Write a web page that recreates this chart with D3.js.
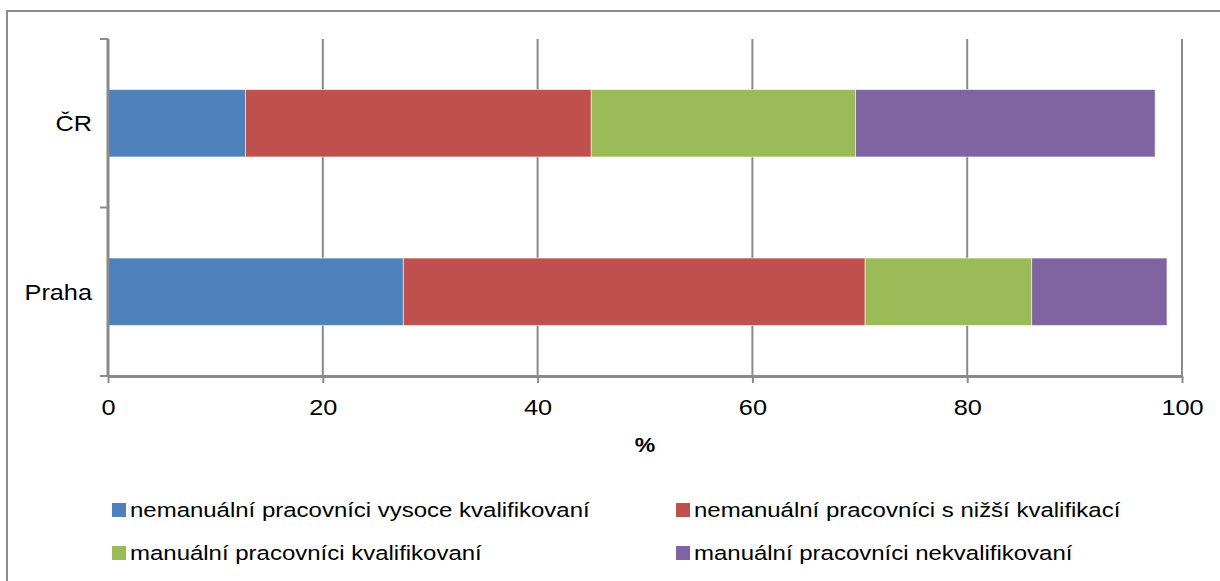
<!DOCTYPE html>
<html lang="cs"><head><meta charset="UTF-8">
<title>Socioprofesní skupiny</title>
<script src="https://d3js.org/d3.v7.min.js"></script>
<style>
  body { margin: 0; background: #fff; }
  text { font-family: "Liberation Sans", Arial, sans-serif; fill: #000; }
</style>
</head>
<body>
<script>
// data
var categories = ["ČR", "Praha"];
var seriesNames = [
  "nemanuální pracovníci vysoce kvalifikovaní",
  "nemanuální pracovníci s nižší kvalifikací",
  "manuální pracovníci kvalifikovaní",
  "manuální pracovníci nekvalifikovaní"
];
var highQual = [12.8, 27.5];
var lowQual = [32.2, 43.0];
var manualQual = [24.6, 15.5];
var manualUnqual = [27.9, 12.6];
var xTicks = [0, 20, 40, 60, 80, 100];
var colors = ["#4f81bd", "#c0504d", "#9bbb59", "#8064a2"];

var w = 1220, h = 581;
var stretch = 1.15; // reference text is a bit wider than tall

var svg = d3.select("body").append("svg")
  .attr("width", w).attr("height", h);

// outer frame (cut off right and bottom)
svg.append("rect")
  .attr("x", 7).attr("y", 11)
  .attr("width", w + 20).attr("height", h + 20)
  .attr("fill", "none").attr("stroke", "#8c8c8c").attr("stroke-width", 2);

var x = d3.scaleLinear().domain([0, 100]).range([108, 1182]);
var y = d3.scaleBand().domain(categories).range([39, 376])
  .paddingInner(0.6).paddingOuter(0.3);

// stack rows
var rows = categories.map(function(c, i) {
  return { cat: c, v: [highQual[i], lowQual[i], manualQual[i], manualUnqual[i]] };
});
var keys = [0, 1, 2, 3];
var stack = d3.stack().keys(keys).value(function(d, k) { return d.v[k]; });
var layers = stack(rows);

// gridlines
svg.append("g").selectAll("line")
  .data(xTicks.slice(1))
  .enter().append("line")
  .attr("x1", function(d) { return x(d); }).attr("x2", function(d) { return x(d); })
  .attr("y1", y.range()[0]).attr("y2", y.range()[1])
  .attr("stroke", "#8a8a8a").attr("stroke-width", 2);

// bars
svg.append("g").selectAll("g")
  .data(layers)
  .enter().append("g")
  .attr("fill", function(d, i) { return colors[i]; })
  .selectAll("rect")
  .data(function(d) { return d; })
  .enter().append("rect")
  .attr("x", function(d) { return x(d[0]); })
  .attr("width", function(d) { return x(d[1]) - x(d[0]); })
  .attr("y", function(d) { return y(d.data.cat); })
  .attr("height", y.bandwidth())
  .attr("stroke", "rgba(255,255,255,0.55)").attr("stroke-width", 1);

// x axis
var xAxis = svg.append("g")
  .attr("transform", "translate(0," + y.range()[1] + ")")
  .call(d3.axisBottom(x).tickValues(xTicks).tickSize(7).tickSizeOuter(0).tickFormat(d3.format("d")));
xAxis.select(".domain").attr("stroke", "#8a8a8a").attr("stroke-width", 3);
xAxis.selectAll(".tick line").attr("stroke", "#8a8a8a").attr("stroke-width", 2);
xAxis.selectAll(".tick text")
  .attr("y", 0).attr("dy", 0)
  .attr("transform", "translate(0,39) scale(" + stretch + ",1)")
  .style("font-size", "22px")
  .style("font-family", "'Liberation Sans', Arial, sans-serif")
  .attr("fill", "#000");

// y axis line and category boundary ticks
var gap = (y.step() - y.bandwidth()) / 2;
var bounds = categories.map(function(c) { return y(c) - gap; }).concat([y.range()[1]]);
var yAxis = svg.append("g");
yAxis.append("line")
  .attr("x1", x(0)).attr("x2", x(0))
  .attr("y1", y.range()[0]).attr("y2", y.range()[1])
  .attr("stroke", "#8a8a8a").attr("stroke-width", 3);
yAxis.selectAll("line.tk")
  .data(bounds).enter().append("line")
  .attr("class", "tk")
  .attr("x1", x(0) - 8).attr("x2", x(0))
  .attr("y1", function(d) { return d; }).attr("y2", function(d) { return d; })
  .attr("stroke", "#8a8a8a").attr("stroke-width", 2);
yAxis.selectAll("text")
  .data(categories).enter().append("text")
  .attr("transform", function(d) {
    return "translate(" + (x(0) - 16) + "," + (y(d) + y.bandwidth() / 2 + 8) + ") scale(" + stretch + ",1)";
  })
  .attr("text-anchor", "end")
  .style("font-size", "22px")
  .text(function(d) { return d; });

// axis title
svg.append("text")
  .attr("transform", "translate(" + ((x(0) + x(100)) / 2) + ",452) scale(" + stretch + ",1)")
  .attr("text-anchor", "middle")
  .style("font-size", "20px").style("font-weight", "bold")
  .text("%");

// legend
var legendX = [112, 676];
var legendY = [510, 553];
var legend = svg.append("g").selectAll("g")
  .data(seriesNames)
  .enter().append("g")
  .attr("transform", function(d, i) {
    return "translate(" + legendX[i % 2] + "," + legendY[Math.floor(i / 2)] + ")";
  });
legend.append("rect")
  .attr("x", 0).attr("y", -7).attr("width", 14).attr("height", 14)
  .attr("fill", function(d, i) { return colors[i]; });
legend.append("text")
  .attr("transform", "translate(18,7) scale(1.17,1)")
  .style("font-size", "20.5px")
  .text(function(d) { return d; });
</script>
</body></html>
